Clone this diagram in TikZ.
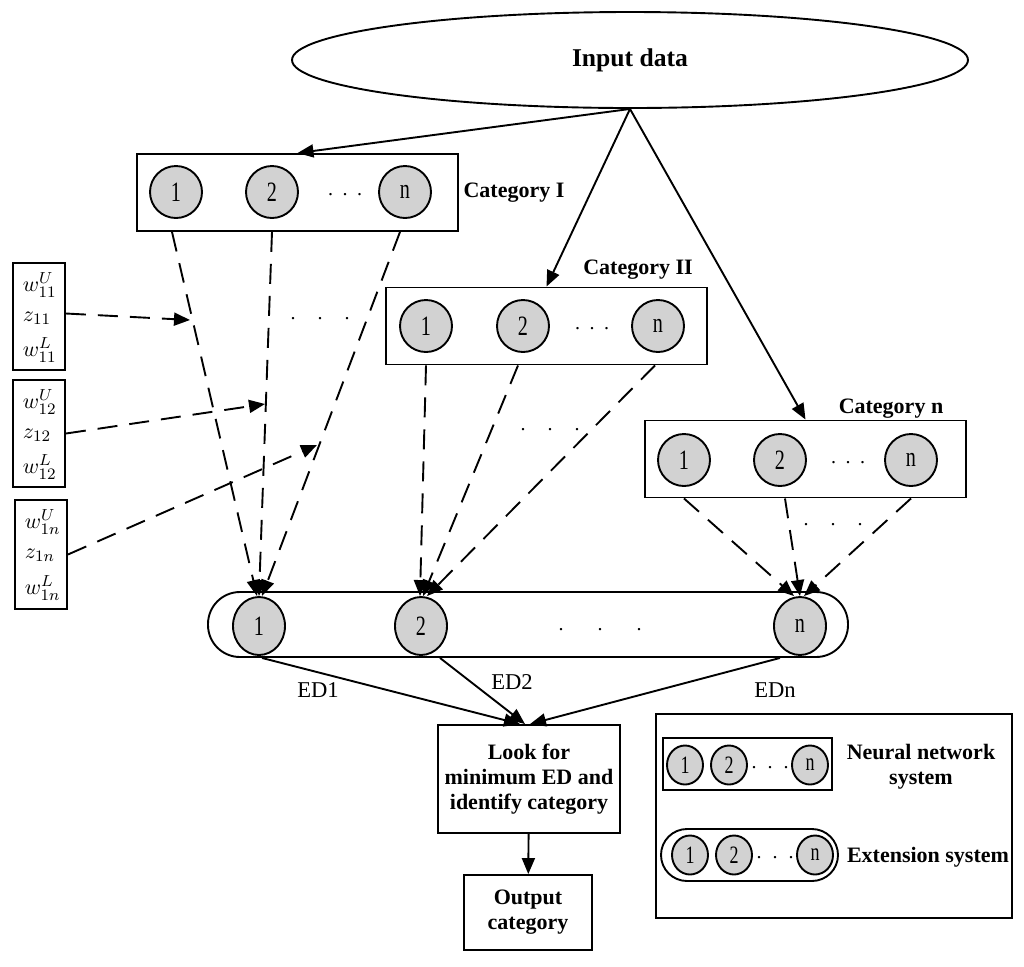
\documentclass[tikz,border=0pt]{standalone}
\usepackage{fontspec}
\setmainfont{Liberation Serif}
\newfontfamily\numfont[FakeStretch=0.72]{Liberation Serif}
\usetikzlibrary{arrows.meta,shapes.geometric,positioning}
\begin{document}
\begin{tikzpicture}[x=0.5pt,y=-0.5pt,line width=0.95pt,>={Triangle[length=8pt,width=6.5pt]},
  catbox/.style={draw,minimum width=160.5pt,minimum height=38.5pt},
  neuron/.style={draw,circle,fill=gray!35,minimum size=26pt,inner sep=0pt,font=\numfont\fontsize{14}{14}\selectfont},
  extneuron/.style={neuron,ellipse,minimum width=26pt,minimum height=29pt},
  smallneuron/.style={neuron,ellipse,minimum width=18pt,minimum height=19.5pt,font=\numfont\fontsize{12.5}{12.5}\selectfont},
  boldtext/.style={font=\bfseries\fontsize{11}{12.5}\selectfont,align=center},
  wbox/.style={draw,minimum width=26pt,minimum height=53.5pt},
  wtext/.style={anchor=west,inner sep=1pt,font=\fontsize{11}{12}\selectfont},
  dashline/.style={dash pattern=on 10pt off 6pt},
  edtext/.style={font=\fontsize{11.3}{12}\selectfont}]
\useasboundingbox (0,0) rectangle (1024,966);
% input
\node[draw,ellipse,minimum width=338pt,minimum height=48pt,font=\bfseries\fontsize{12.8}{14}\selectfont] (input) at (630,60) {Input data};
% category I
\node[catbox] (cat1) at (297.5,192.5) {};
\node[neuron] (c11) at (176,192) {1};
\node[neuron] (c12) at (272,192) {2};
\node[neuron] (c1n) at (405,192) {n};
\node at (345,195) {.\hspace{4.75pt}.\hspace{4.75pt}.};
\node[boldtext,right=-1.5pt of cat1] (lab1) {Category I};
% category II
\node[catbox] (cat2) at (546.5,326) {};
\node[neuron] (c21) at (426,326) {1};
\node[neuron] (c22) at (523,326) {2};
\node[neuron] (c2n) at (658,326) {n};
\node at (592,329) {.\hspace{4.75pt}.\hspace{4.75pt}.};
\node[boldtext] (lab2) at (638,270) {Category II};
% category n
\node[catbox] (catn) at (805.5,459) {};
\node[neuron] (cn1) at (684,460) {1};
\node[neuron] (cn2) at (780,460) {2};
\node[neuron] (cnn) at (911,460) {n};
\node at (848,463) {.\hspace{4.75pt}.\hspace{4.75pt}.};
\node[boldtext] (labn) at (891,409) {Category n};
% weights
\node[wbox] (w1) at (39,316.5) {};
\node[wtext] (w1u) at (20,285) {$w_{11}^{U}$};
\node[wtext] (w1z) at (20,318) {$z_{11}$};
\node[wtext] (w1l) at (20,350) {$w_{11}^{L}$};
\node[wbox] (w2) at (39,433.5) {};
\node[wtext] (w2u) at (20,402) {$w_{12}^{U}$};
\node[wtext] (w2z) at (20,435) {$z_{12}$};
\node[wtext] (w2l) at (20,467) {$w_{12}^{L}$};
\node[wbox,minimum height=54.5pt] (w3) at (41,554.5) {};
\node[wtext] (w3u) at (22,522) {$w_{1n}^{U}$};
\node[wtext] (w3z) at (22,555) {$z_{1n}$};
\node[wtext] (w3l) at (22,588) {$w_{1n}^{L}$};
% extension system
\node[draw,rounded corners=16pt,minimum width=320pt,minimum height=32.5pt] (ext) at (528,624.5) {};
\node[extneuron] (e1) at (259,626) {1};
\node[extneuron] (e2) at (421,626) {2};
\node[extneuron] (en) at (800,626) {n};
\node at (600,630) {.\hspace{17pt}.\hspace{17pt}.};
% input arrows
\draw[->] (input.south) -- (cat1.north);
\draw[->] (input.south) -- (cat2.north);
\draw[->] (input.south) -- (catn.north);
% dashed connections
\draw[dashline,->] ([xshift=-2pt]cat1.south -| c11) -- ([xshift=-1pt]e1.north);
\draw[dashline,->] (cat1.south -| c12) -- (e1.north);
\draw[dashline,->] ([xshift=-2.5pt]cat1.south -| c1n) -- ([xshift=1.5pt]e1.north);
\node at (320,319) {.\hspace{11pt}.\hspace{11pt}.};
\draw[dashline,->] (cat2.south -| c21) -- ([xshift=-0.5pt]e2.north);
\draw[dashline,->] ([xshift=-2.5pt]cat2.south -| c22) -- ([xshift=1pt]e2.north);
\draw[dashline,->] ([xshift=-1.5pt]cat2.south -| c2n) -- ([xshift=3pt]e2.north);
\node at (550,430) {.\hspace{11pt}.\hspace{11pt}.};
\draw[dashline,->] (catn.south -| cn1) -- ([xshift=-3pt]en.north);
\draw[dashline,->] ([xshift=2.5pt]catn.south -| cn2) -- (en.north);
\draw[dashline,->] (catn.south -| cnn) -- ([xshift=2pt]en.north);
\node at (833,525) {.\hspace{11pt}.\hspace{11pt}.};
% weight arrows
\coordinate (h1) at (190,320);
\coordinate (h2) at (265,404);
\coordinate (h3) at (317,445);
\draw[dashline,->] ([yshift=1.5pt]w1.east) -- (h1);
\draw[dashline,->] (w2.east) -- (h2);
\draw[dashline,->] (w3.east) -- (h3);
% decision
\node[draw,minimum width=91pt,minimum height=54pt,boldtext] (look) at (529,779) {Look for\\minimum ED and\\identify category};
\node[draw,minimum width=64pt,minimum height=37.5pt,boldtext] (out) at (528,912.5) {Output\\category};
\draw[->] ([xshift=1.5pt]ext.south -| e1) -- ([xshift=-4.5pt]look.north);
\draw[->] ([xshift=9.5pt]ext.south -| e2) -- ([xshift=-2pt]look.north);
\draw[->] ([xshift=-10pt]ext.south -| en) -- ([xshift=0.5pt]look.north);
\draw[->] (look) -- (out);
\node[edtext] (ed1) at (318,690) {ED1};
\node[edtext] (ed2) at (512,682) {ED2};
\node[edtext] (edn) at (775,690) {EDn};
% legend
\node[draw,minimum width=178pt,minimum height=102pt] (legend) at (834,816) {};
\node[draw,minimum width=84.5pt,minimum height=26pt] (nnbox) at (747.5,764) {};
\node[smallneuron] (l11) at (685,765) {1};
\node[smallneuron] (l12) at (729,765) {2};
\node[smallneuron] (l1n) at (810,765) {n};
\node at (770,768) {.\hspace{5.5pt}.\hspace{5.5pt}.};
\node[boldtext] (labnn) at (921,767) {Neural network\\system};
\node[draw,rounded corners=13pt,minimum width=88.5pt,minimum height=26pt] (exbox) at (749.5,855) {};
\node[smallneuron] (l21) at (690,855) {1};
\node[smallneuron] (l22) at (734,855) {2};
\node[smallneuron] (l2n) at (815,855) {n};
\node at (775,858) {.\hspace{5.5pt}.\hspace{5.5pt}.};
\node[boldtext] (labex) at (928,857) {Extension system};
\end{tikzpicture}
\end{document}
